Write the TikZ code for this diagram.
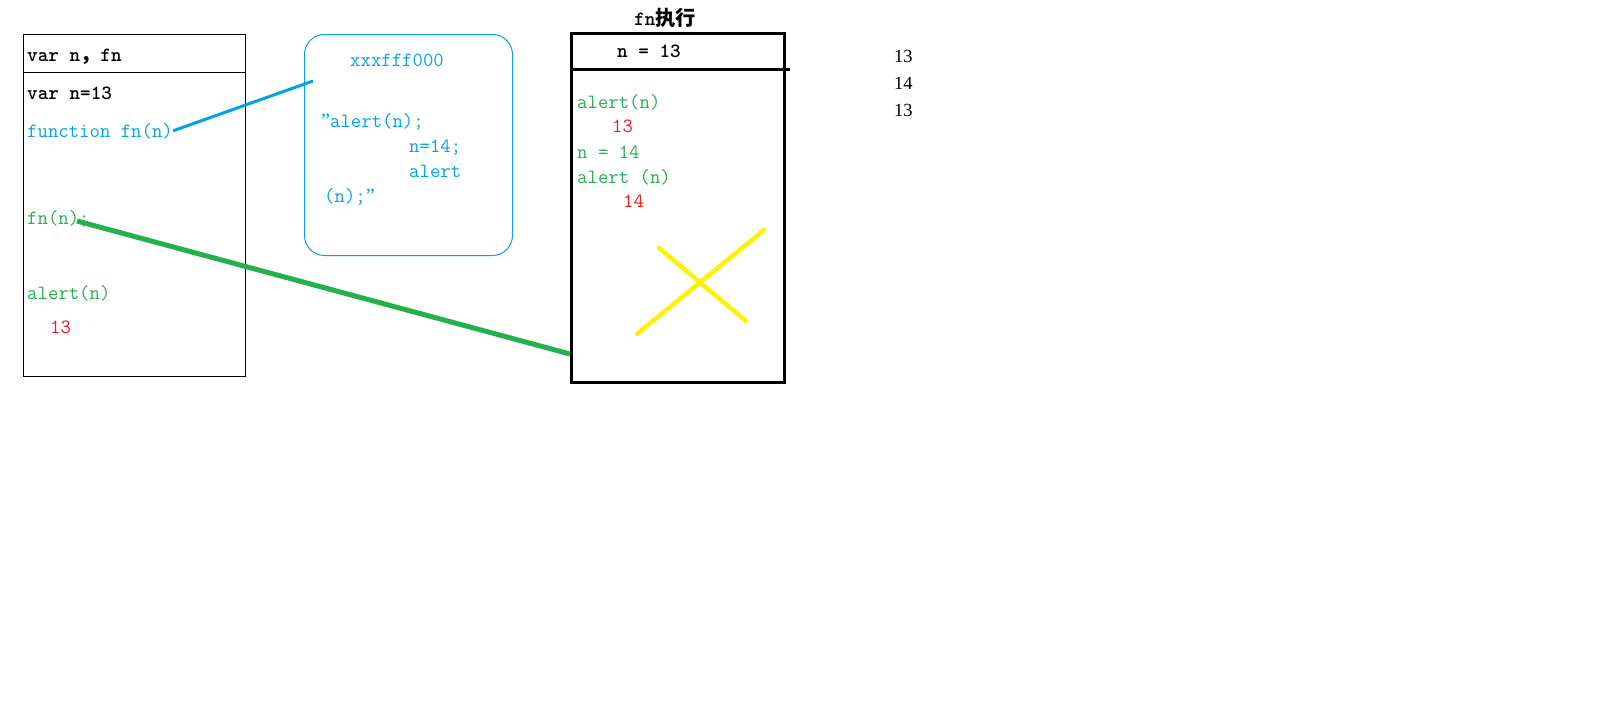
\documentclass[tikz,border=0pt]{standalone}
\usepackage{fontspec}
\setmainfont{Liberation Serif}
\newfontfamily\cjk{Noto Sans CJK SC}
\usetikzlibrary{positioning}
\definecolor{jsblue}{RGB}{0,162,232}
\definecolor{jsgreen}{RGB}{34,177,76}
\definecolor{jsred}{RGB}{237,28,36}
\definecolor{jsyellow}{RGB}{255,242,0}
\newcommand{\rquot}{\textrm{”}}

\begin{document}
\begin{tikzpicture}[x=1pt,y=-1pt,
    code/.style={font=\fontsize{20.2}{24}\ttfamily,anchor=base west,inner sep=0pt},
    codebold/.style={code,font=\fontsize{20.2}{24}\ttfamily\bfseries},
    frame/.style={draw,line width=1,anchor=north west,inner sep=0pt},
    outnum/.style={font=\fontsize{18.5}{20}\selectfont,anchor=base west,inner sep=0pt}]
  \useasboundingbox[fill=white] (0,0) rectangle (1616,712);

  % global scope
  \node[frame,minimum width=222,minimum height=342] (scope) at (23,34) {};
  \draw[line width=1] ([yshift=-38]scope.north west) -- ([yshift=-38]scope.north east);
  \node[codebold] (vars) at (27,61) {var n{\cjk ，}fn};
  \node[codebold] (setn) at (27,99) {var n=13};
  \node[code,text=jsblue] (fndef) at (27,137) {function fn(n)};
  \node[code,text=jsgreen] (fncall) at (27,224) {fn(n);};
  \node[code,text=jsgreen] (alertg) at (27,299) {alert(n)};
  \node[code,text=jsred] (resg) at (50,333) {13};

  % heap
  \node[frame,draw=jsblue,rounded corners=20,minimum width=208,minimum height=221] (heap) at (304,34) {};
  \node[code,text=jsblue] (addr) at (350,66) {xxxfff000};
  \node[code,text=jsblue] (body1) at (321,127) {\rquot alert(n);};
  \node[code,text=jsblue] (body2) at (409,152) {n=14;};
  \node[code,text=jsblue] (body3) at (409,177) {alert};
  \node[code,text=jsblue] (body4) at (324,202) {(n);\rquot};

  % private scope of fn
  \node[frame,line width=3,minimum width=213,minimum height=349] (run) at (570,32) {};
  \draw[line width=3] ([yshift=-37]run.north west) -- ([yshift=-37,xshift=4]run.north east);
  \node[codebold,anchor=base] (runtitle) at (665,25) {fn{\cjk 执行}};
  \node[codebold] (argn) at (617,57) {n = 13};
  \node[code,text=jsgreen] (alert1) at (577,108) {alert(n)};
  \node[code,text=jsred] (res1) at (612,132) {13};
  \node[code,text=jsgreen] (setn2) at (577,158) {n = 14};
  \node[code,text=jsgreen] (alert2) at (577,183) {alert (n)};
  \node[code,text=jsred] (res2) at (623,207) {14};

  % output
  \node[outnum] (out1) at (894,62) {13};
  \node[outnum] (out2) at (894,89) {14};
  \node[outnum] (out3) at (894,116) {13};

  % links
  \coordinate (heapin) at (313,81);
  \coordinate (callout) at (77,221);
  \coordinate (callin) at (570,354);
  \draw[jsblue,line width=3] (fndef.east) -- (heapin);
  \draw[jsgreen,line width=5] (callout) -- (callin);

  % freed
  \coordinate (x1a) at (637,334);
  \coordinate (x1b) at (764,230);
  \coordinate (x2a) at (659,248);
  \coordinate (x2b) at (746,321);
  \draw[jsyellow,line width=4.5,line cap=round] (x1a) -- (x1b) (x2a) -- (x2b);
\end{tikzpicture}
\end{document}
